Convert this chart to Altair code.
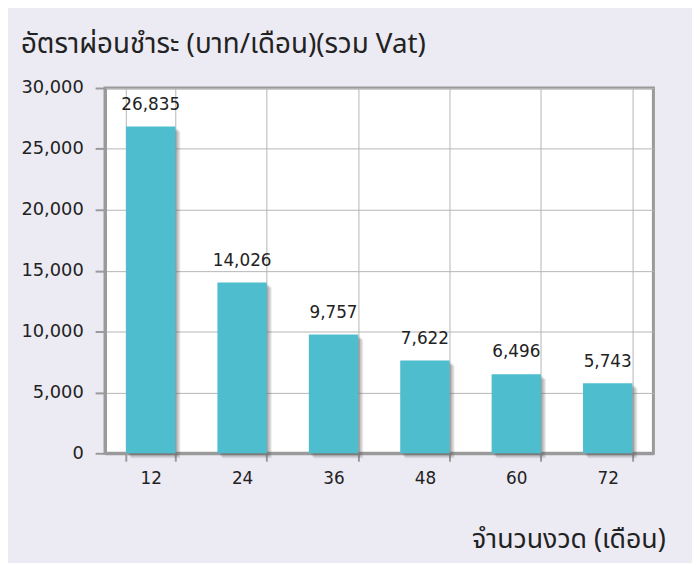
import altair as alt
import pandas as pd

months = ["12", "24", "36", "48", "60", "72"]
payments = [26835, 14026, 9757, 7622, 6496, 5743]

df = pd.DataFrame({"months": months, "payment": payments})

FONT = "Noto Sans Thai, Noto Sans, Lato, sans-serif"
NUMFONT = "DejaVu Sans, Noto Sans, sans-serif"
BAR = "#4EBDCE"

x = alt.X("months:N", sort=months,
          scale=alt.Scale(paddingInner=0.46, paddingOuter=0.23),
          axis=alt.Axis(title="จำนวนงวด (เดือน)", labelAngle=0, tickBand="extent",
                        grid=True, gridColor="#b5b5b5", gridWidth=1,
                        domainColor="#9a9a9a", domainWidth=3,
                        tickColor="#9a9a9a", tickWidth=2, tickSize=8,
                        labelPadding=10, labelFontSize=17, labelColor="#222",
                        labelFont=NUMFONT, titleFont=FONT, titleFontSize=27,
                        titleFontWeight="normal", titleColor="#222",
                        titleAnchor="end", titleAlign="right",
                        titleX=566, titleY=95, titleBaseline="alphabetic"))

y = alt.Y("payment:Q", scale=alt.Scale(domain=[0, 30000]),
          axis=alt.Axis(title=None, values=[0, 5000, 10000, 15000, 20000, 25000, 30000],
                        format=",.0f", grid=True, gridColor="#b5b5b5", gridWidth=1,
                        domainColor="#9a9a9a", domainWidth=3,
                        tickColor="#9a9a9a", tickWidth=2, tickSize=10,
                        labelPadding=12, labelFontSize=18, labelColor="#222",
                        labelFont=NUMFONT))

base = alt.Chart(df)

shadows = [
    base.mark_bar(color="#555555", opacity=0.12, xOffset=o, x2Offset=o, yOffset=o, y2Offset=o)
    .encode(x=x, y=y)
    for o in (2, 3, 4, 5)
]

bars = base.mark_bar(color=BAR).encode(x=x, y=y)

labels = base.mark_text(dy=-22, fontSize=17, color="#222", font=NUMFONT).encode(
    x=x, y=y, text=alt.Text("payment:Q", format=",.0f")
)

chart = alt.layer(*shadows, bars, labels).properties(
    width=554,
    height=369,
    background="#ECEAF3",
    padding={"left": 13, "top": 21, "right": 27, "bottom": 8},
    title=alt.TitleParams(
        "อัตราผ่อนชำระ (บาท/เดือน)(รวม Vat)",
        anchor="start", fontSize=28, fontWeight="normal", color="#222",
        font=FONT, offset=20,
    ),
).configure_view(fill="white", stroke="#9a9a9a", strokeWidth=3)

chart.save("out.html", embed_options={"renderer": "svg", "actions": False})
